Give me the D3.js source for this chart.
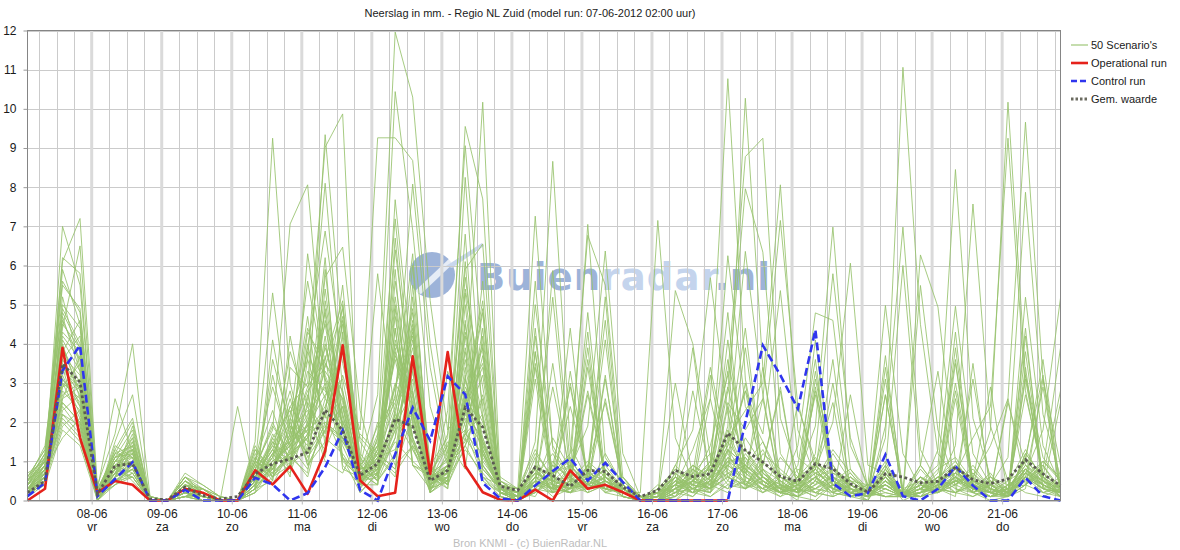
<!DOCTYPE html>
<html>
<head>
<meta charset="utf-8">
<title>Neerslag NL Zuid</title>
<script src="https://cdnjs.cloudflare.com/ajax/libs/d3/7.8.5/d3.min.js"></script>
<style>
body { margin: 0; background: #fff; }
text { font-family: "Liberation Sans", Arial, sans-serif; fill: #1a1a1a; }
</style>
</head>
<body>
<svg id="chart" width="1180" height="550"></svg>
<script>
// model run and 6-hourly steps
var runStart = new Date(2012, 5, 7, 2, 0);
var runEnd = new Date(2012, 5, 21, 20, 0);
var stepHours = 6;

var yTicks = [0, 1, 2, 3, 4, 5, 6, 7, 8, 9, 10, 11, 12];
var weekdays = ["zo", "ma", "di", "wo", "do", "vr", "za"];

var operational = [0,0.3,3.9,1.6,0.2,0.5,0.4,0,0,0.3,0.2,0,0,0.77,0.41,0.87,0.17,1.26,3.96,0.51,0.11,0.2,3.68,0.68,3.79,0.88,0.21,0.02,0,0.28,0,0.77,0.3,0.4,0.21,0,0,0,0,0,0];

var control = [0.11,0.45,3.32,3.96,0.11,0.55,0.98,0,0,0.27,0,0,0,0.58,0.41,0,0.19,0.85,1.79,0.26,0,1.18,2.37,1.53,3.17,2.71,0.45,0.05,0,0.38,0.75,1.08,0.51,0.96,0.47,0,0,0,0,0,0,2.0,3.96,3.2,2.34,4.36,0.44,0.11,0.19,1.17,0.11,0,0.3,0.87,0.38,0,0,0.58,0.11,0];

var gemiddelde = [0.2,0.5,3.49,3.02,0.17,0.89,0.94,0.04,0.02,0.34,0.13,0.04,0.1,0.68,0.94,1.06,1.23,2.31,1.79,0.64,0.94,2.08,1.89,0.51,0.77,2.37,1.87,0.36,0.26,0.85,0.64,0.36,0.77,0.74,0.34,0.1,0.26,0.77,0.61,0.68,1.72,1.28,0.98,0.61,0.49,0.94,0.81,0.43,0.21,0.68,0.6,0.45,0.49,0.85,0.53,0.43,0.55,1.04,0.68,0.38];

var scenarios = [
  [0.3,0.8,7.0,5.5,0.2,1.1,1.4,0, 0,0.4,0.1,0,0, 0.6,1.2,1.5,3.8,2.6,1.9,0.4,0.8,2.2,4.6,0.3,0.6,2.8,1.5,0.2,0.1, 0.4,0.9,2.9,0.6,0.2,0.1,0, 0,0.2,0.5,0.3,1.1,0.8,0.4,0.2,0.1,3.1,0.9,0.3,0.1,0.4,0.2,6.27,4.94,1.0,0.3,0.1,0.2,0.8,0.4,0.2],
  [0.2,0.9,6.1,7.2,0.3,2.6,1.2,0.1, 0,0.6,0.2,0,0, 0.3,0.9,1.6,2.8,3.4,4.9,0.6,0.9,2.2,1.5,0.4,0.9,5.3,1.3,0.3,0.1, 0.2,0.5,4.4,0.4,0.8,0.3,0, 0.1,0,0.3,0.7,3.6,1.3,0.6,0.3,0,2.9,0.5,0.8,0.2,0.1,0.1,5.49,1.8,0.4,0.2,0,0.1,0.5,0.9,0.3],
  [0.5,1.0,6.2,5.8,0.1,0.7,1.0,0, 0,0.2,0,0,0, 1.1,0.5,4.2,1.9,2.7,3.1,0.9,0.5,5.6,2.4,0.5,0.6,1.7,2.2,0.2,0, 3.1,0.3,0.2,0.9,0.4,0.2,0, 0,0.4,0.2,0.1,0.5,1.6,0.9,2.8,0.2,0.8,0.3,0.1,0,0.7,0.1,0.2,1.3,8.45,2.1,0.6,0.3,0.4,1.0,0.6],
  [0.1,0.6,5.9,4.5,0.2,0.8,1.7,0, 0,0.1,0.3,0.1,0, 0.4,1.5,1.1,0.7,5.1,2.2,0.5,1.3,3.0,2.1,0.2,3.3,1.9,0.8,0.3,0.2, 1.2,0.6,0.4,0.2,1.0,0.5,0.1, 0,0.6,3.9,0.4,0.2,0.9,1.5,0.6,0.3,0.1,0.4,0.2,0,3.4,0.3,0.5,0.9,4.96,1.2,0.4,0.1,0.6,0.3,0.1],
  [0.3,0.5,4.8,3.9,0,0.6,0.9,0, 0,0.3,0.1,0,0, 1.5,9.25,3.0,1.2,1.9,1.6,0.7,0.4,4.4,0.9,0.6,0.5,2.2,4.8,0.1,0, 5.0,1.4,0.6,0.3,0.5,0.2,0, 0.2,0.1,0.4,0.9,0.6,0.3,1.2,0.8,0.4,0.2,0.1,2.7,0.3,0.1,0.2,0.6,0.4,1.4,7.57,1.9,0.5,0.2,0.1,0.3],
  [0.4,0.7,3.6,4.2,0.1,1.3,2.1,0, 0,0,0,0,0, 0.9,1.8,7.06,8.06,2.9,1.1,0.5,1.2,0.8,5.2,0.6,0.9,1.4,2.6,0.2,0.1, 3.5,0.7,1.0,0.5,0.3,0.6,0.1, 0,0.3,0.1,0.6,1.4,4.4,0.7,0.3,0.1,0,0.4,0.6,0.2,0.8,0.3,0.1,0.5,0.9,0.4,1.8,10.17,3.2,1.1,0.5],
  [0.2,1.1,5.2,3.4,0.3,0.5,0.8,0, 0,0.5,0.2,0,0, 0.7,0.4,1.3,2.4,9.34,4.1,1.2,0.6,6.4,2.8,0.3,0.8,2.5,3.9,0.4,0.1, 0.9,0.2,0.4,3.6,0.6,0.1,0, 0.3,0.8,0.4,3.2,0.7,0.5,0.3,1.1,0.6,0.2,0.1,0.3,0.1,0.5,0.2,0.4,0.2,0.7,1.6,2.4,9.25,2.8,0.6,0.3],
  [0.6,1.3,4.4,6.5,0.2,1.0,1.5,0.1, 0,0.7,0.4,0.1,0, 0.5,1.1,2.2,3.6,9.02,9.87,0.5,0.8,2.0,4.1,0.7,0.4,1.6,0.9,0.2,0, 0.5,2.9,0.7,3.9,0.4,0.3,0, 0,0.1,0.7,1.2,0.5,0.3,0.8,0.5,0.2,1.0,0.6,0.2,0.1,3.7,0.1,0.8,0.3,0.2,0.6,1.4,2.6,9.66,3.1,0.9],
  [0.3,0.9,3.9,2.8,0.1,1.4,1.1,0, 0,0.2,0.1,0,0, 1.3,0.8,1.7,4.7,1.4,3.2,1.8,9.26,9.26,8.68,4.0,1.2,2.1,1.4,0.5,0.2, 0.8,0.3,0.9,0.4,2.6,0.4,0, 0.1,0.5,0.2,0.8,1.7,0.6,0.4,0.3,0.9,3.6,0.2,0.1,0.3,0.6,0.2,0.9,3.3,0.3,0.2,0.4,1.1,7.87,2.2,0.6],
  [0.1,0.4,3.1,2.5,0,0.8,0.6,0, 0,0.1,0,0,0, 0.8,1.9,1.2,0.6,2.3,4.5,0.9,2.7,11.96,10.3,5.1,1.8,2.4,3.4,0.3,0, 0.2,0.6,2.4,0.7,0.3,0.2,0, 0,0.2,0.9,0.5,0.3,1.2,0.6,0.2,0.1,0.5,1.3,0.7,0.2,0.1,0.1,0.3,0.8,1.1,0.5,2.9,0.1,5.19,1.4,0.4],
  [0.4,0.8,2.6,3.7,0.2,0.6,1.9,0, 0,0.3,0.2,0,0, 0.3,3.6,1.9,1.4,5.4,2.1,0.3,1.6,10.44,6.9,2.4,0.9,3.1,1.5,0.6,0.3, 0.4,3.5,0.5,1.0,0.6,0.2,0.1, 0.2,0,0.5,1.0,4.8,0.4,0.2,0.6,0.3,0.1,0.7,0.4,0.1,0.2,0.1,0.9,0.3,0.6,0.2,0.1,0.4,0.7,1.8,5.17],
  [0.2,0.6,3.4,1.9,0.1,0.4,0.7,0, 0,0,0,0,0, 1.0,2.3,0.9,4.3,3.5,2.6,0.4,0.4,7.68,3.3,0.5,1.1,6.1,0.6,0.1,0, 4.2,0.4,0.2,0.6,0.9,0.3,0, 0,0.7,0.3,0.2,2.4,1.0,0.5,0.2,2.5,0.8,0.3,0.5,0.2,0.9,0.1,0.2,0.6,0.3,0.1,0.4,0.1,1.2,0.6,0.1],
  [0.5,1.2,2.9,3.1,0.4,1.7,4.0,0.1, 0,0.4,0.3,0,0, 0.6,1.4,2.8,0.9,1.5,5.0,0.8,1.9,2.6,8.08,3.4,1.0,1.5,4.4,0.4,0.1, 0.3,1.0,0.5,0.3,1.2,0.4,0, 0.4,0.2,0.1,0.5,1.0,0.7,1.3,0.4,0.2,0.6,0.1,0.3,0,0.8,0.1,0.3,0.2,2.8,0.4,0.2,0.1,1.1,3.2,0.3],
  [0.3,0.7,4.1,3.3,0.2,1.0,1.3,0, 0,0.6,0.2,0,0, 0.4,0.9,1.5,2.6,4.8,0.8,0.6,1.1,0.6,5.5,0.9,1.6,9.55,7.7,0.3,0, 0.5,0.2,0.7,0.4,3.2,0.1,0, 0,0.3,0.6,0.2,0.9,3.9,0.7,0.3,0.1,0.4,0.8,0.2,0.1,0.5,0.1,0.6,0.2,0.4,0.9,0.3,0.1,0.6,0.4,0.2],
  [0.1,0.5,2.3,2.7,0.1,0.9,0.5,0, 0,0.2,0,0,0, 1.2,0.6,2.0,5.6,3.1,1.5,0.7,0.4,4.9,0.9,0.3,2.3,9.06,3.8,0.2,0.1, 0.7,0.5,0.3,0.8,4.6,0.1,0, 0.1,0.9,0.4,0.3,0.6,0.4,1.0,0.5,0.2,0.9,2.5,0.1,0.2,0.6,0.1,0.1,0.3,3.0,0.5,0.2,0.3,0.9,0.5,0.1],
  [0.7,1.0,3.8,4.6,0.3,1.2,2.0,0, 0,0.3,0.1,0,2.4, 0.3,1.6,0.8,2.5,1.7,4.6,1.5,0.8,2.3,3.9,0.7,1.4,3.0,10.17,0.5,0.2, 0.1,0.9,0.6,2.8,0.7,0.3,0, 0.3,0.1,0.8,0.5,1.3,0.6,0.3,0.7,0.4,4.1,0.6,0.4,0.1,0.3,0.1,0.5,0.2,0.6,0.3,0.1,0.4,0.6,0.3,0.4],
  [0.2,0.6,2.1,1.6,0,0.5,0.9,0, 0,0.1,0.2,0,0, 0.5,1.0,1.4,2.1,6.2,1.0,0.6,1.4,4.0,2.7,0.4,0.7,8.25,2.1,0.2,0, 0.6,1.2,0.4,0.5,0.3,0.2,0, 0,0.4,0.2,0.9,3.3,0.3,0.6,0.2,0.8,0.5,0.2,0.1,0.3,0.4,0.1,0.6,0.3,0.1,3.5,0.2,0.1,0.4,0.9,0.2],
  [0.4,0.9,3.2,2.2,0.2,0.7,1.6,0, 0,0.5,0.1,0,0, 0.2,4.1,1.6,1.9,1.3,2.4,0.2,0.7,1.6,6.0,0.6,1.7,5.9,6.55,0.4,0.1, 3.8,0.5,0.9,0.3,0.6,0.2,0, 0.2,0.6,0.3,0.1,0.4,0.9,0.5,0.3,0.6,1.1,0.4,0.2,0.1,0.7,0.1,0.2,0.5,0.8,0.3,0.1,0.2,4.4,0.3,0.6],
  [0.3,0.8,2.5,2.0,0.1,1.5,2.7,0, 0,0,0,0,0, 0.7,1.3,2.4,3.0,8.1,2.8,0.9,1.5,5.2,1.9,0.8,0.3,4.2,1.1,0.3,0, 3.4,0.4,0.6,0.2,0.4,0.1,0, 0,0.2,0.5,0.4,1.8,0.7,0.3,0.2,0.5,0.8,3.6,0.2,0.3,1.0,0.1,0.1,0.2,0.5,0.6,0.3,0.1,0.8,0.4,0.2],
  [0.2,0.4,1.8,1.4,0,0.6,0.8,0, 0,0.3,0.2,0,0, 1.4,0.6,1.2,3.9,6.88,3.5,1.6,1.1,0.7,1.4,0.2,0.5,2.6,5.1,0.1,0, 0.2,0.7,0.9,0.4,0.3,0.2,0, 0.1,0.4,0.9,0.6,0.3,0.5,3.4,0.4,0.1,0.3,0.7,0.5,0.2,0.4,0.1,0.6,0.3,0.2,0.4,0.1,0.2,3.8,0.5,0.3],
  [0.6,1.1,4.6,3.6,0.2,0.9,1.2,0, 0,0.4,0.1,0,0, 0.8,2.0,1.0,1.7,5.7,6.47,2.3,0.6,1.8,3.7,0.9,0.4,1.4,2.7,0.2,0.1, 0.5,0.3,0.2,0.7,4.1,0.3,0, 0,0.3,0.2,0.5,1.0,0.4,0.8,0.3,0.2,0.5,0.3,0.6,0.2,0.1,0.1,0.3,0.7,3.6,0.2,0.5,0.3,0.9,0.6,0.1],
  [0.1,0.7,3.0,2.6,0.1,0.4,0.6,0, 0,0.1,0,0,0, 0.6,1.1,2.6,1.1,1.8,4.0,1.0,5.79,2.1,1.3,0.6,0.8,6.8,0.9,0.3,0, 0.4,0.9,0.3,4.8,0.6,0.2,0, 0.2,0.5,0.3,2.6,0.6,1.1,0.4,0.2,0.3,0.6,0.2,0.4,0.1,2.7,0.2,0.2,0.3,0.6,0.2,0.4,0.1,0.7,0.3,0.2],
  [0.4,1.0,5.5,4.9,0.3,1.1,1.8,0.1, 0,0.2,0.1,0,0, 0.3,0.5,3.4,2.9,4.5,1.8,0.5,1.6,7.19,2.6,0.4,0.8,1.7,1.2,0.2,0.1, 0.9,0.6,1.1,0.3,0.5,0.1,0, 0.1,3.0,0.6,0.3,0.9,0.5,0.2,0.6,0.3,0.2,0.5,0.1,0.2,0.6,0.1,0.5,0.2,0.4,0.7,0.2,0.1,0.4,0.2,0.3],
  [0.2,0.5,2.7,3.0,0.1,0.8,1.0,0, 0,0.6,0.3,0.1,0, 1.0,0.7,1.1,1.6,2.2,5.5,0.8,0.9,4.7,1.6,0.5,1.4,1.8,0.6,0.4,0.3, 7.26,1.3,0.5,0.6,0.3,0.2,0, 0,0.1,0.4,0.2,0.7,0.9,0.5,0.2,0.4,0.3,0.6,0.3,0.1,0.4,0.1,0.3,0.6,0.2,0.1,0.3,0.2,0.6,2.9,0.2],
  [0.5,0.9,3.5,2.4,0.2,1.3,0.9,0, 0,0.3,0.2,0,0, 0.4,1.2,0.7,2.0,3.9,2.5,0.3,0.9,2.7,6.3,0.2,0.6,3.2,0.5,0.2,0.1, 1.5,8.66,1.4,0.5,0.8,0.3,0, 0.3,0.6,0.2,0.4,0.9,0.6,0.3,0.1,0.5,0.2,0.4,0.7,0.2,3.1,0.1,0.2,0.4,0.9,0.3,0.2,0.1,0.3,3.1,0.1],
  [0.3,0.6,2.2,1.7,0,0.7,1.4,0, 0,0.2,0,0,0, 0.9,5.3,1.8,2.3,1.0,0.7,1.7,1.2,0.8,2.2,0.3,0.7,4.6,0.8,0.3,0.2, 0.6,5.87,0.9,0.4,3.1,0.4,0.1, 0,0.4,0.7,0.3,4.1,0.8,0.2,0.4,0.2,0.6,0.3,0.2,0.4,0.3,0.1,0.4,0.2,0.5,0.3,0.1,0.3,0.8,0.2,0.4],
  [0.1,0.8,1.6,2.1,0.2,0.5,0.7,0, 0,0.5,0.2,0,0, 0.5,0.9,1.4,0.8,2.0,1.6,0.6,1.0,5.9,0.9,0.7,1.5,0.8,4.2,0.3,0, 0.9,5.19,0.6,0.8,0.3,0.2,0, 0.2,0.3,0.5,1.0,0.4,0.3,0.6,0.2,0.3,2.8,0.8,0.3,0.1,0.6,0.1,0.2,0.3,3.9,0.4,0.2,0.1,0.4,0.7,0.3],
  [0.4,1.2,4.3,3.8,0.3,1.0,1.1,0, 0,0.1,0.2,0,0, 0.7,1.5,0.6,6.3,3.2,2.0,1.1,0.5,1.2,4.4,0.4,0.9,1.4,0.6,0.2,0.1, 0.4,1.6,0.8,7.05,1.1,0.4,0, 0,0.2,0.3,0.6,1.2,0.4,0.3,0.5,0.2,0.3,0.5,0.2,0.4,0.2,0.1,0.3,0.5,0.2,0.4,0.6,0.2,3.4,0.3,0.2],
  [0.2,0.7,3.3,2.9,0.1,0.6,1.5,0, 0,0.4,0.1,0,0, 1.1,0.8,2.1,1.5,4.2,1.1,0.2,0.7,1.5,1.0,0.6,0.3,5.0,0.9,0.3,0, 0.3,0.7,1.2,6.77,5.5,0.6,0, 0.1,0.5,0.2,0.3,0.8,3.0,0.4,0.2,0.5,0.3,0.2,0.6,0.3,0.1,0.1,0.6,0.3,0.2,0.5,0.3,0.1,0.6,0.2,0.1],
  [0.3,0.6,2.8,2.3,0.2,0.9,1.3,0, 0,0.2,0.1,0,0, 0.6,1.3,0.9,2.7,1.1,4.3,0.8,1.4,3.6,1.6,0.2,0.6,1.3,0.7,0.2,0.1, 0.5,0.3,0.8,1.9,6.37,1.2,0.1, 0,0.3,0.6,0.4,0.7,0.3,0.5,0.2,0.4,0.8,0.3,0.2,0.1,0.5,0.1,0.4,0.2,0.6,0.3,0.2,2.6,0.4,0.8,3.9],
  [0.5,1.4,4.9,4.0,0.1,0.8,1.0,0, 0,0.3,0.2,0,0, 0.4,0.7,1.9,1.2,3.7,0.9,0.4,2.0,0.9,1.4,0.7,1.0,1.7,5.6,0.1,0, 5.6,0.4,0.3,0.9,0.5,0.2,0.2, 7.15,1.6,0.5,0.3,0.6,0.4,0.9,2.9,0.2,0.4,0.6,0.2,0.1,0.3,0.1,0.4,0.2,0.5,0.3,0.1,0.1,0.6,0.3,0.2],
  [0.2,0.6,2.4,1.8,0.1,0.5,0.8,0, 0,0.3,0.1,0,0, 0.5,1.1,3.8,2.4,1.6,1.2,0.5,0.9,4.1,2.3,0.4,0.8,3.8,1.2,0.3,0.1, 0.6,0.3,0.4,0.7,0.5,0.3,0, 0.1,5.36,4.0,1.1,0.8,0.4,0.6,0.2,0.3,0.7,0.4,0.2,0.1,0.5,0.1,0.3,0.2,2.6,0.3,0.2,0.1,0.7,0.4,0.2],
  [0.4,1.0,3.7,3.2,0.2,1.1,1.2,0, 0,0.5,0.3,0,0, 0.9,0.6,1.3,1.8,4.6,2.7,0.7,1.2,2.4,4.8,0.5,0.9,2.6,3.5,0.4,0.2, 0.8,0.2,0.5,2.7,0.6,0.4,0.1, 0,0.9,1.8,5.69,2.2,0.7,0.4,0.1,0.3,0.6,0.2,0.4,0.2,0.8,0.1,0.2,0.5,0.4,0.7,0.3,0.1,3.2,0.6,0.3],
  [0.3,0.8,4.0,2.6,0.1,0.7,0.6,0, 0,0.1,0,0,0, 0.6,1.3,0.8,3.6,2.1,3.9,0.6,0.7,1.9,2.8,0.3,0.5,4.5,1.4,0.3,0.1, 0.5,0.1,0.3,4.3,0.2,0.5,0.1, 0.2,0.4,1.3,2.6,10.77,3.1,0.8,0.2,0.1,0.5,3.0,0.3,0.1,0.6,0,0.2,0.4,0.8,0.3,0.5,0.2,1.1,0.4,0.2],
  [0.2,0.5,1.9,2.3,0,0.4,0.9,0, 0,0.2,0.1,0,0, 0.3,0.8,1.6,2.9,3.6,5.1,0.9,0.5,1.1,3.3,0.6,0.7,2.9,2.0,0.5,0.2, 0.4,0.6,0.2,0.5,0.8,0.2,0, 0,0.6,0.2,0.9,6.25,2.4,1.5,0.4,0.2,0.9,0.5,0.2,0.3,0.4,0.1,0.3,0.2,0.5,3.1,0.4,0.2,0.6,1.0,0.5],
  [0.5,1.2,5.0,4.4,0.3,1.0,1.6,0, 0,0.4,0.2,0,0, 0.2,0.9,1.2,1.6,4.0,1.9,0.4,1.3,3.7,2.5,0.8,0.4,5.4,2.9,0.2,0, 3.8,0.4,0.2,0.3,0.5,0.3,0.1, 0.1,0.3,0.8,0.4,1.9,10.27,3.4,0.6,0.4,0.8,0.3,0.1,0.2,0.7,0.2,0.1,0.6,0.9,0.4,0.2,0.3,2.7,0.7,0.3],
  [0.1,0.7,2.9,3.5,0.2,0.8,1.0,0, 0,0.3,0,0,0, 1.0,2.9,1.4,2.2,2.9,1.6,0.8,1.0,2.9,4.2,0.2,1.3,2.3,1.0,0.4,0.3, 0.7,0.5,0.6,0.2,0.4,0.2,0, 0.2,0.8,0.5,1.4,3.2,8.78,9.25,2.1,0.7,0.4,1.2,0.5,0.2,0.6,0.1,0.4,0.3,4.3,0.2,0.6,0.4,1.3,0.5,0.2],
  [0.3,0.9,3.0,2.1,0.1,1.2,1.1,0, 0,0.6,0.4,0.1,0, 0.7,1.6,2.3,0.9,1.8,2.4,0.5,0.6,6.7,2.2,0.7,0.5,1.8,3.7,0.3,0.2, 0.3,0.2,3.0,0.5,0.3,0.6,0.1, 0,0.5,0.9,0.6,2.8,7.96,6.34,1.2,0.5,0.9,0.4,0.3,0.1,0.5,0.2,0.3,0.6,1.0,0.4,0.2,0.5,0.8,0.3,2.5],
  [0.4,1.1,4.5,3.9,0.2,0.6,1.3,0.1, 0,0.2,0.1,0,0, 0.5,0.8,1.7,4.4,3.1,2.2,0.6,1.7,2.5,4.3,0.5,0.8,3.9,1.6,0.2,0.1, 0.4,0.3,0.5,0.8,0.2,0.3,0, 0.3,0.2,0.6,0.8,1.5,6.36,2.7,0.3,0.4,3.3,0.6,0.2,0.3,0.9,0.1,0.2,0.4,0.6,0.3,0.7,0.1,1.2,0.6,0.2],
  [0.2,0.6,2.0,1.5,0.1,0.9,0.7,0, 0,0.4,0.2,0,0, 1.3,0.6,0.9,1.3,5.9,1.7,0.9,0.5,1.6,3.6,0.3,0.9,2.7,1.2,0.4,0, 1.1,0.2,0.3,0.6,0.4,0.2,0, 0.1,0.4,0.3,0.5,1.6,2.3,3.0,8.06,1.8,0.6,0.3,0.4,0.2,2.7,0.2,0.1,0.3,0.9,0.5,0.3,0.2,0.8,0.4,0.1],
  [0.6,1.3,5.6,4.8,0.3,1.2,1.4,0, 0,0.3,0.1,0,0, 0.4,1.7,1.1,2.0,3.3,2.6,0.7,0.8,3.9,1.6,0.6,0.7,2.4,4.9,0.3,0.2, 0.5,0.4,0.2,0.9,2.5,0.4,0.1, 0.2,0.6,0.4,0.3,2.5,1.8,2.6,7.15,2.4,1.0,0.5,0.2,0.1,0.4,0.1,0.3,0.5,0.7,0.4,0.2,0.3,1.0,3.6,0.3],
  [0.3,0.7,3.4,2.7,0.2,0.7,1.2,0, 0,0.1,0.3,0,0, 0.6,1.0,2.4,1.7,2.4,3.8,0.4,1.1,1.3,2.4,0.7,0.4,5.7,2.4,0.3,0.1, 4.4,0.3,0.4,0.3,0.7,0.2,0, 0,0.2,0.7,3.4,1.2,2.8,1.7,5.36,1.1,0.7,0.9,0.3,0.2,0.4,0.1,0.2,0.4,0.5,0.8,0.3,0.2,0.7,0.5,0.2],
  [0.1,0.5,2.6,2.9,0.1,0.6,0.8,0, 0,0.3,0.2,0,0, 0.8,1.4,1.0,4.0,1.9,1.5,0.9,1.4,2.9,4.9,0.4,0.6,3.4,1.3,0.2,0, 0.6,0.5,0.4,0.7,0.3,0.4,0.1, 0.1,0.7,0.3,0.2,1.3,0.9,0.6,0.3,1.4,4.79,4.6,0.8,0.3,0.5,0.1,0.3,0.2,0.6,0.4,0.5,0.2,3.1,0.6,0.2],
  [0.5,1.0,3.9,3.0,0.2,1.0,0.9,0, 0,0.5,0.2,0,0, 0.3,0.9,1.8,1.2,3.5,2.8,0.5,0.7,4.4,1.3,0.4,0.8,2.2,1.6,0.5,0.3, 1.3,0.5,0.3,0.4,0.6,0.3,0.1, 0.2,0.4,0.6,0.9,2.9,0.8,0.5,0.2,0.6,1.9,6.98,1.4,0.4,0.3,0.1,0.2,0.5,0.7,0.3,0.4,0.2,4.2,0.5,0.3],
  [0.2,0.8,3.1,2.4,0.1,0.8,1.1,0, 0,0.2,0,0,0, 0.5,3.2,1.3,1.9,3.0,1.4,0.4,1.0,2.1,1.9,0.6,0.9,2.5,4.0,0.3,0.1, 0.4,0.2,3.3,0.6,0.3,0.2,0, 0,0.5,0.4,0.6,0.9,1.3,0.7,0.4,0.2,1.2,5.79,1.6,0.3,0.6,0.2,0.1,0.3,3.5,0.5,0.3,0.1,0.6,0.4,0.2],
  [0.3,0.6,2.2,1.9,0,0.5,0.6,0, 0,0.1,0.1,0,0, 0.7,0.8,1.5,1.8,2.2,1.1,0.7,1.3,5.0,2.0,0.5,0.7,4.3,2.1,0.4,0.2, 0.7,0.4,0.3,0.5,5.2,0.2,0, 0.1,0.3,0.5,0.3,1.1,0.7,2.6,0.3,0.5,0.8,2.0,6.06,0.9,0.7,0.2,0.4,0.3,0.5,0.2,0.4,0.1,0.8,0.5,0.1],
  [0.4,0.9,4.2,3.6,0.2,0.9,1.0,0, 0,0.4,0.3,0,0, 0.4,1.2,2.0,1.0,2.6,4.7,0.6,1.1,2.0,3.1,0.3,0.5,2.3,1.5,0.3,0, 0.5,0.3,0.2,0.4,0.6,0.3,0, 0,0.6,0.3,0.5,1.4,2.8,0.6,0.4,0.3,0.6,0.8,0.5,0.4,4.98,1.2,0.3,0.5,0.8,0.2,0.4,0.3,1.0,0.6,2.8],
  [0.2,0.6,2.5,2.0,0.1,0.7,0.9,0, 0,0.2,0.1,0,0, 1.0,0.7,1.2,1.6,4.9,1.9,0.5,0.8,1.8,2.2,0.4,0.7,2.0,3.2,0.2,0.1, 0.6,0.3,0.4,0.3,0.5,0.2,0, 0.2,0.4,0.6,0.3,1.3,0.9,0.5,0.2,0.4,0.7,0.5,0.3,0.2,1.6,11.06,4.5,1.2,0.6,0.3,0.2,2.5,0.9,0.4,0.2],
  [0.3,0.8,3.6,2.8,0.2,1.1,1.3,0, 0,0.3,0.2,0,0, 0.6,1.0,1.4,3.3,2.8,2.0,0.8,0.9,3.8,1.5,0.5,0.6,2.6,1.9,0.4,0.2, 0.9,0.4,0.3,3.4,0.5,0.3,0.1, 0.1,0.5,0.8,0.4,1.0,1.1,0.6,0.3,0.5,2.7,0.4,0.2,0.1,1.9,6.98,1.3,0.4,0.7,0.5,0.2,0.3,0.8,0.5,0.3],
  [0.5,1.0,4.7,3.3,0.1,0.6,1.0,0, 0,0.4,0.1,0,0, 0.2,0.6,1.1,1.7,2.0,1.6,0.5,1.2,1.9,4.5,0.6,1.1,3.6,1.3,0.3,0.1, 0.8,0.3,0.5,0.4,0.3,0.2,0, 0,0.3,2.8,0.7,1.5,0.8,0.4,0.2,0.6,0.9,0.5,0.3,0.2,0.8,6.0,0.9,0.3,0.5,0.4,0.3,0.2,0.7,0.4,0.2]
];

var svg = d3.select('#chart');
var plotLeft = 27.5, plotRight = 1060.5, plotTop = 30.5, plotBottom = 500.5;

var x = d3.scaleTime().domain([runStart, runEnd]).range([plotLeft, plotRight]);
var y = d3.scaleLinear().domain([0, 12]).range([plotBottom, plotTop]);

var stepTime = function(i){ return d3.timeHour.offset(runStart, i * stepHours); };
var line = d3.line()
  .x(function(d, i){ return x(stepTime(i)); })
  .y(function(d){ return y(d); });

// watermark sits under the grid
var wm = svg.append('g');
wm.append('circle').attr('cx', 432).attr('cy', 275).attr('r', 23).attr('fill', '#9db3d9');
wm.append('path').attr('d', 'M414,292 L452,256 L458,259 L421,294 Z').attr('fill', '#fff').attr('opacity', 0.75);
wm.append('path').attr('d', 'M446,266 L482,243 L484,246 L452,268 Z').attr('fill', '#c9d7ee');
var wmText = wm.append('text')
  .attr('x', 477).attr('y', 290)
  .attr('textLength', 293).attr('lengthAdjust', 'spacing')
  .style('font-family', '"DejaVu Sans", sans-serif')
  .style('font-weight', 'bold').style('font-size', '37px');
wmText.append('tspan').text('Buien').style('fill', '#9db3d9');
wmText.append('tspan').text('radar').style('fill', '#c4d4ed');
wmText.append('tspan').text('.nl').style('fill', '#9db3d9');

// grid
var grid = svg.append('g');
grid.selectAll('line.h').data(yTicks).enter().append('line')
  .attr('x1', plotLeft).attr('x2', plotRight)
  .attr('y1', function(d){ return Math.round(y(d)) + 0.5; })
  .attr('y2', function(d){ return Math.round(y(d)) + 0.5; })
  .attr('stroke', '#cbcbcb');

var sixHours = d3.timeHour.every(6).range(runStart, runEnd).filter(function(t){ return t.getHours() !== 0; });
grid.selectAll('line.v').data(sixHours).enter().append('line')
  .attr('x1', function(d){ return Math.round(x(d)) + 0.5; })
  .attr('x2', function(d){ return Math.round(x(d)) + 0.5; })
  .attr('y1', plotTop).attr('y2', plotBottom)
  .attr('stroke', '#cbcbcb');

var days = d3.timeDay.range(d3.timeDay.ceil(runStart), runEnd);
grid.selectAll('line.d').data(days).enter().append('line')
  .attr('x1', function(d){ return x(d); })
  .attr('x2', function(d){ return x(d); })
  .attr('y1', plotTop).attr('y2', plotBottom)
  .attr('stroke', '#dadada').attr('stroke-width', 3);

// series
var plot = svg.append('g');
plot.selectAll('path.scen').data(scenarios).enter().append('path')
  .attr('d', line)
  .attr('fill', 'none')
  .attr('stroke', '#96c26c')
  .attr('stroke-width', 1)
  .attr('stroke-opacity', 0.85);

plot.append('path').datum(operational).attr('d', line)
  .attr('fill', 'none').attr('stroke', '#e5221b').attr('stroke-width', 2.6)
  .attr('stroke-linejoin', 'round');

plot.append('path').datum(control).attr('d', line)
  .attr('fill', 'none').attr('stroke', '#2f35ee').attr('stroke-width', 2.6)
  .attr('stroke-dasharray', '8,4');

plot.append('path').datum(gemiddelde).attr('d', line)
  .attr('fill', 'none').attr('stroke', '#5b5b52').attr('stroke-width', 2.8)
  .attr('stroke-dasharray', '2.8,2.6');

// frame
svg.append('rect')
  .attr('x', plotLeft).attr('y', plotTop)
  .attr('width', plotRight - plotLeft).attr('height', plotBottom - plotTop)
  .attr('fill', 'none').attr('stroke', '#858585');

// axes
var yAxis = d3.axisLeft(y).tickValues(yTicks).tickSize(4).tickPadding(7);
var gy = svg.append('g').attr('transform', 'translate(' + plotLeft + ',0)').call(yAxis);
gy.select('.domain').remove();
gy.selectAll('.tick line').attr('stroke', '#999');
gy.selectAll('.tick text').style('font-size', '12px').style('fill', '#1a1a1a')
  .style('font-family', '"Liberation Sans", Arial, sans-serif');

var xAxis = d3.axisBottom(x).tickValues(days).tickSize(4).tickPadding(5)
  .tickFormat(d3.timeFormat('%d-%m'));
var gx = svg.append('g').attr('transform', 'translate(0,' + plotBottom + ')').call(xAxis);
gx.select('.domain').remove();
gx.selectAll('.tick line').attr('stroke', '#bbb');
gx.selectAll('.tick text').style('font-size', '12px').style('fill', '#1a1a1a')
  .style('font-family', '"Liberation Sans", Arial, sans-serif');
gx.selectAll('.tick').append('text')
  .attr('y', 30).attr('text-anchor', 'middle')
  .style('font-size', '12px').style('fill', '#1a1a1a')
  .style('font-family', '"Liberation Sans", Arial, sans-serif')
  .text(function(d){ return weekdays[d.getDay()]; });

// title + source
svg.append('text').attr('x', 530).attr('y', 17).attr('text-anchor', 'middle')
  .style('font-size', '11px')
  .text('Neerslag in mm. - Regio NL Zuid (model run: 07-06-2012 02:00 uur)');
svg.append('text').attr('x', 530).attr('y', 547).attr('text-anchor', 'middle')
  .style('font-size', '11px').style('fill', '#bdbdbd')
  .text('Bron KNMI - (c) BuienRadar.NL');

// legend
var legendItems = [
  {label: "50 Scenario's", color: '#96c26c', width: 1.1, dash: null},
  {label: 'Operational run', color: '#e5221b', width: 2.6, dash: null},
  {label: 'Control run', color: '#2f35ee', width: 2.6, dash: '6,3'},
  {label: 'Gem. waarde', color: '#6b6b60', width: 3, dash: '2.5,2'}
];
var lg = svg.append('g').attr('transform', 'translate(1071,45)');
var row = lg.selectAll('g').data(legendItems).enter().append('g')
  .attr('transform', function(d, i){ return 'translate(0,' + (i * 18) + ')'; });
row.append('line').attr('x1', 0).attr('x2', 17).attr('y1', 0).attr('y2', 0)
  .attr('stroke', function(d){ return d.color; })
  .attr('stroke-width', function(d){ return d.width; })
  .attr('stroke-dasharray', function(d){ return d.dash; });
row.append('text').attr('x', 20).attr('y', 4)
  .style('font-size', '11px')
  .text(function(d){ return d.label; });
</script>
</body>
</html>
